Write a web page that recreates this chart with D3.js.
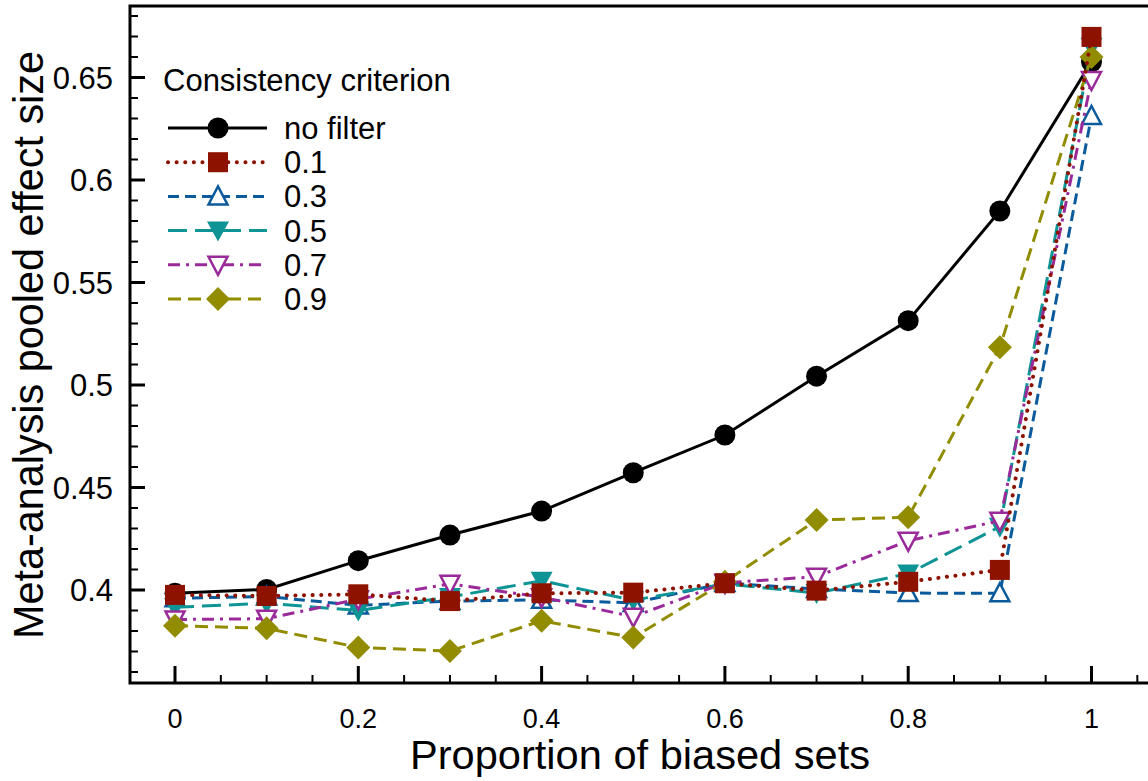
<!DOCTYPE html>
<html>
<head>
<meta charset="utf-8">
<script src="https://cdn.jsdelivr.net/npm/d3@7"></script>
<style>
  body { margin: 0; background: #fff; }
  svg { display: block; font-family: "Liberation Sans", Arial, Helvetica, sans-serif; }
</style>
</head>
<body>
<svg id="chart" width="1148" height="781"></svg>
<script>
// proportion of biased sets
var xs = [0, 0.1, 0.2, 0.3, 0.4, 0.5, 0.6, 0.7, 0.8, 0.9, 1];

// pooled effect size per consistency criterion
var noFilter = [0.3984, 0.4003, 0.4143, 0.4268, 0.4385, 0.4572, 0.4756, 0.5043, 0.5314, 0.5849, 0.6577];
var c01 = [0.3976, 0.3971, 0.3979, 0.3946, 0.3984, 0.3987, 0.4033, 0.3997, 0.4040, 0.4098, 0.6698];
var c03 = [0.3960, 0.3968, 0.3925, 0.3946, 0.3952, 0.3937, 0.4034, 0.4005, 0.3985, 0.3984, 0.6312];
var c05 = [0.3916, 0.3935, 0.3900, 0.3966, 0.4045, 0.3950, 0.4030, 0.3985, 0.4080, 0.4309, 0.6650];
var c07 = [0.3856, 0.3860, 0.3955, 0.4030, 0.3965, 0.3870, 0.4035, 0.4065, 0.4240, 0.4338, 0.6488];
var c09 = [0.3826, 0.3813, 0.3720, 0.3702, 0.3850, 0.3768, 0.4040, 0.4341, 0.4355, 0.5184, 0.6600];

var yTicks = [0.4, 0.45, 0.5, 0.55, 0.6, 0.65];
var xTicks = [0, 0.2, 0.4, 0.6, 0.8, 1];

var series = [
  { name: "no filter", values: noFilter, color: "#000000", dash: null, marker: "circle" },
  { name: "0.3", values: c03, color: "#0a5a9c", dash: "11,6", marker: "triUp" },
  { name: "0.5", values: c05, color: "#0e9494", dash: "19,8", marker: "triDownFill" },
  { name: "0.7", values: c07, color: "#9a2a9a", dash: "12,6,3,6", marker: "triDown" },
  { name: "0.9", values: c09, color: "#918c00", dash: "13,7", marker: "diamond" },
  { name: "0.1", values: c01, color: "#8e1200", dash: "0.1,8.5", marker: "square" }
];
var legendOrder = ["no filter", "0.1", "0.3", "0.5", "0.7", "0.9"];

var svg = d3.select("#chart");
var pLeft = 130, pTop = 6, pBottom = 683, pRight = 1170;

var x = d3.scaleLinear().domain([0, 1]).range([175, 1091.5]);
var y = d3.scaleLinear().domain([0.4, 0.65]).range([590, 77.5]);

function isMajor(list, d) { return list.some(t => Math.abs(t - d) < 1e-6); }
function isDotted(s) { return s.dash && s.dash.startsWith("0.1"); }

// frame
svg.append("rect")
  .attr("x", pLeft).attr("y", pTop)
  .attr("width", pRight - pLeft).attr("height", pBottom - pTop)
  .attr("fill", "none").attr("stroke", "#000").attr("stroke-width", 3);

// y ticks (inward)
var yMinor = d3.range(0.36, 0.685, 0.01).map(d => +d.toFixed(2));
svg.append("g").selectAll("line").data(yMinor).enter().append("line")
  .attr("x1", pLeft).attr("x2", d => pLeft + (isMajor(yTicks, d) ? 15 : 8))
  .attr("y1", d => y(d)).attr("y2", d => y(d))
  .attr("stroke", "#000").attr("stroke-width", d => isMajor(yTicks, d) ? 3 : 2);

svg.append("g").selectAll("text").data(yTicks).enter().append("text")
  .attr("x", 113).attr("y", d => y(d) + 11)
  .attr("text-anchor", "end").attr("font-size", 31)
  .text(d => d3.format("")(d));

// x ticks (inward)
var xMinor = d3.range(-0.05, 1.1, 0.05).map(d => +d.toFixed(2)).filter(d => x(d) > pLeft && x(d) < pRight);
svg.append("g").selectAll("line").data(xMinor).enter().append("line")
  .attr("y1", pBottom).attr("y2", d => pBottom - (isMajor(xTicks, d) ? 17 : 8))
  .attr("x1", d => x(d)).attr("x2", d => x(d))
  .attr("stroke", "#000").attr("stroke-width", d => isMajor(xTicks, d) ? 3 : 2);

svg.append("g").selectAll("text").data(xTicks).enter().append("text")
  .attr("x", d => x(d)).attr("y", 728)
  .attr("text-anchor", "middle").attr("font-size", 27)
  .text(d => d3.format("")(d));

// axis titles
svg.append("text").attr("x", 640).attr("y", 769)
  .attr("text-anchor", "middle").attr("font-size", 41)
  .attr("textLength", 460).attr("lengthAdjust", "spacingAndGlyphs")
  .text("Proportion of biased sets");
svg.append("text").attr("transform", "translate(43,345) rotate(-90)")
  .attr("text-anchor", "middle").attr("font-size", 42)
  .attr("textLength", 588).attr("lengthAdjust", "spacingAndGlyphs")
  .text("Meta-analysis pooled effect size");

// marker drawing
function drawMarker(g, type, color) {
  if (type === "circle") {
    g.append("circle").attr("r", 10.5).attr("fill", color);
  } else if (type === "square") {
    g.append("rect").attr("x", -10).attr("y", -10).attr("width", 20).attr("height", 20).attr("fill", color);
  } else if (type === "diamond") {
    g.append("path").attr("d", "M0,-12L12,0L0,12L-12,0Z").attr("fill", color);
  } else if (type === "triUp") {
    g.append("path").attr("d", "M0,-10L9.5,8L-9.5,8Z").attr("fill", "#fff")
      .attr("stroke", color).attr("stroke-width", 2.5);
  } else if (type === "triDown") {
    g.append("path").attr("d", "M0,10L9.5,-8L-9.5,-8Z").attr("fill", "#fff")
      .attr("stroke", color).attr("stroke-width", 2.5);
  } else if (type === "triDownFill") {
    g.append("path").attr("d", "M0,11L11,-9L-11,-9Z").attr("fill", color);
  }
}

var line = d3.line().x((d, i) => x(xs[i])).y(d => y(d));

series.forEach(function (s) {
  var g = svg.append("g");
  g.append("path").attr("d", line(s.values))
    .attr("fill", "none").attr("stroke", s.color)
    .attr("stroke-width", isDotted(s) ? 4 : 3)
    .attr("stroke-linecap", isDotted(s) ? "round" : "butt")
    .attr("stroke-dasharray", s.dash);
  s.values.forEach(function (v, i) {
    drawMarker(g.append("g").attr("transform", "translate(" + x(xs[i]) + "," + y(v) + ")"), s.marker, s.color);
  });
});

// legend
var lg = svg.append("g");
lg.append("text").attr("x", 163).attr("y", 91).attr("font-size", 31).text("Consistency criterion");
legendOrder.forEach(function (name, i) {
  var s = series.find(d => d.name === name);
  var cy = 128 + i * 34.2;
  lg.append("line").attr("x1", 168).attr("x2", 267).attr("y1", cy).attr("y2", cy)
    .attr("stroke", s.color).attr("stroke-width", isDotted(s) ? 4 : 3)
    .attr("stroke-linecap", isDotted(s) ? "round" : "butt")
    .attr("stroke-dasharray", s.dash);
  drawMarker(lg.append("g").attr("transform", "translate(218," + cy + ")"), s.marker, s.color);
  lg.append("text").attr("x", 284).attr("y", cy + 11).attr("font-size", 31).text(name);
});
</script>
</body>
</html>
